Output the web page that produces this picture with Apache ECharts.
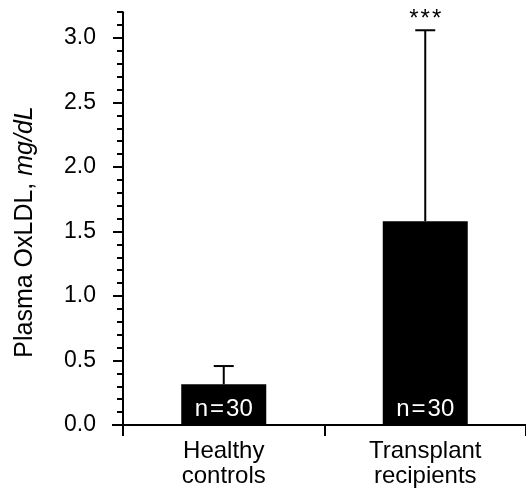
<!DOCTYPE html>
<html>
<head>
<meta charset="utf-8">
<script src="https://cdn.jsdelivr.net/npm/echarts@6/dist/echarts.min.js"></script>
<style>html,body{margin:0;padding:0;background:#fff}#c{width:526px;height:500px}</style>
</head>
<body>
<div id="c"></div>
<script>
var categories = ['Healthy\ncontrols', 'Transplant\nrecipients'];
var means = [0.315, 1.58];
var errorTops = [0.457, 3.06];
var barLabels = ['n\u200A=\u200A30', 'n\u200A=\u200A30'];
var significance = ['', '*\u200A*\u200A*'];
var yMajorTicks = [0, 0.5, 1.0, 1.5, 2.0, 2.5, 3.0];
var yMinorTicks = [0, 0.1, 0.2, 0.3, 0.4, 0.5, 0.6, 0.7, 0.8, 0.9, 1.0, 1.1, 1.2, 1.3, 1.4, 1.5, 1.6, 1.7, 1.8, 1.9, 2.0, 2.1, 2.2, 2.3, 2.4, 2.5, 2.6, 2.7, 2.8, 2.9, 3.0, 3.1, 3.2];
var yMax = 3.2;

var FONT = '"Liberation Sans", Arial, Helvetica, sans-serif';
var chart = echarts.init(document.getElementById('c'), null, {renderer: 'canvas'});

var errData = categories.map(function (c, i) { return [i, means[i], errorTops[i], significance[i]]; });

chart.setOption({
  animation: false,
  backgroundColor: '#fff',
  grid: {left: 123, right: 0, top: 12.2, bottom: 75, containLabel: false, outerBoundsMode: 'none'},
  xAxis: {
    type: 'category',
    data: categories,
    axisLine: {lineStyle: {color: '#000', width: 2}},
    axisTick: {show: true, length: 11, lineStyle: {color: '#000', width: 2}},
    axisLabel: {color: '#000', fontFamily: FONT, fontSize: 24, lineHeight: 25, margin: 14}
  },
  yAxis: [{
    type: 'value', min: 0, max: yMax,
    axisLine: {show: true, lineStyle: {color: '#000', width: 2}},
    axisTick: {show: true, length: 10, lineStyle: {color: '#000', width: 2}, customValues: yMajorTicks},
    axisLabel: {color: '#000', fontFamily: FONT, fontSize: 23, margin: 27, customValues: yMajorTicks,
      formatter: function (v) { return v.toFixed(1); }},
    splitLine: {show: false}
  }, {
    type: 'value', min: 0, max: yMax, position: 'left',
    axisLine: {show: false},
    axisTick: {show: true, length: 6, lineStyle: {color: '#000', width: 2}, customValues: yMinorTicks},
    axisLabel: {show: false},
    splitLine: {show: false}
  }],
  series: [{
    type: 'bar',
    data: means,
    barWidth: 85,
    itemStyle: {color: '#000'},
    label: {
      show: true, position: 'insideBottom', distance: 4,
      color: '#fff', fontFamily: FONT, fontSize: 24,
      formatter: function (p) { return barLabels[p.dataIndex]; }
    },
    z: 2
  }, {
    type: 'custom',
    data: errData,
    z: 3,
    renderItem: function (params, api) {
      var x = api.value(0);
      var p0 = api.coord([x, api.value(1)]);
      var p1 = api.coord([x, api.value(2)]);
      var half = 10;
      var children = [
        {type: 'line', shape: {x1: p0[0], y1: p0[1], x2: p1[0], y2: p1[1]}, style: {stroke: '#000', lineWidth: 2}},
        {type: 'line', shape: {x1: p1[0] - half, y1: p1[1], x2: p1[0] + half, y2: p1[1]}, style: {stroke: '#000', lineWidth: 2}}
      ];
      var sig = significance[params.dataIndex];
      if (sig) {
        children.push({type: 'text', style: {text: sig, x: p1[0], y: p1[1] + 1, align: 'center', verticalAlign: 'bottom',
          font: '24px ' + FONT, fill: '#000'}});
      }
      return {type: 'group', children: children};
    }
  }],
  graphic: [{
    type: 'text',
    x: 25, y: 232,
    rotation: Math.PI / 2,
    style: {
      text: '{a|Plasma OxLDL, }{b|mg/dL}',
      align: 'center', verticalAlign: 'middle',
      rich: {
        a: {fontFamily: FONT, fontSize: 25, fill: '#000'},
        b: {fontFamily: FONT, fontSize: 25, fontStyle: 'italic', fill: '#000'}
      }
    }
  }, {
    type: 'line',
    shape: {x1: 112, y1: 425, x2: 123, y2: 425},
    style: {stroke: '#000', lineWidth: 2}
  }]
});
</script>
</body>
</html>
